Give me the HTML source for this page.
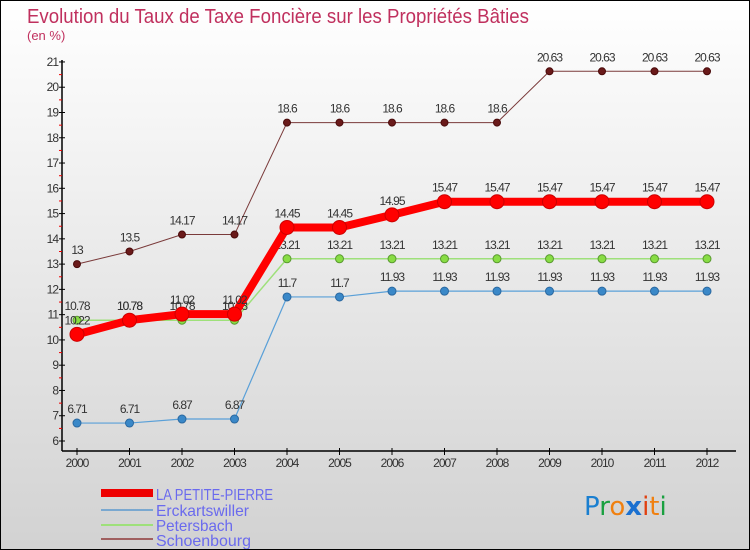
<!DOCTYPE html>
<html><head><meta charset="utf-8"><style>
body{margin:0}
#c{width:750px;height:550px;position:relative;box-sizing:border-box;border:1px solid #000;background:linear-gradient(#fff,#d2d2d2);overflow:hidden;font-family:"Liberation Sans",sans-serif}
</style></head><body>
<div id="c">
<svg id="s" width="750" height="550" style="position:absolute;left:0;top:0">
<text x="26" y="22" font-size="20" fill="#c0305e" textLength="502" lengthAdjust="spacingAndGlyphs">Evolution du Taux de Taxe Foncière sur les Propriétés Bâties</text>
<text x="26" y="39" font-size="13" fill="#c0305e">(en %)</text>
<g id="axes"></g><g id="series"></g>
<g>
<rect x="100" y="488" width="52" height="8" fill="#e00"/>
<text x="155" y="499" font-size="16" fill="#6a6aee" textLength="117" lengthAdjust="spacingAndGlyphs">LA PETITE-PIERRE</text>
<rect x="100" y="508" width="52" height="2" fill="#7aa8d0"/>
<text x="155" y="515" font-size="16" fill="#6a6aee" textLength="93" lengthAdjust="spacingAndGlyphs">Erckartswiller</text>
<rect x="100" y="523" width="52" height="2" fill="#9ee07a"/>
<text x="155" y="530" font-size="16" fill="#6a6aee" textLength="77" lengthAdjust="spacingAndGlyphs">Petersbach</text>
<rect x="100" y="537" width="52" height="2" fill="#a06060"/>
<text x="155" y="545" font-size="16" fill="#6a6aee" textLength="95" lengthAdjust="spacingAndGlyphs">Schoenbourg</text>
</g>
<g font-size="26" font-family="'DejaVu Sans',sans-serif">
<text x="583" y="514"><tspan fill="#1a7fd0">P</tspan><tspan fill="#1aa040">r</tspan><tspan fill="#f08010">o</tspan><tspan fill="#1a70d0" font-weight="bold">x</tspan><tspan fill="#e04010">i</tspan><tspan fill="#f08010">t</tspan><tspan fill="#1aa040">i</tspan></text>
</g>
</svg>
</div>
<script>
const years=[2000,2001,2002,2003,2004,2005,2006,2007,2008,2009,2010,2011,2012];
const schoenbourg=[13,13.5,14.17,14.17,18.6,18.6,18.6,18.6,18.6,20.63,20.63,20.63,20.63];
const petersbach=[10.78,10.78,10.78,10.78,13.21,13.21,13.21,13.21,13.21,13.21,13.21,13.21,13.21];
const erckartswiller=[6.71,6.71,6.87,6.87,11.7,11.7,11.93,11.93,11.93,11.93,11.93,11.93,11.93];
const petitePierre=[10.22,10.78,11.02,11.02,14.45,14.45,14.95,15.47,15.47,15.47,15.47,15.47,15.47];
const yTicks=[6,7,8,9,10,11,12,13,14,15,16,17,18,19,20,21];
const NS="http://www.w3.org/2000/svg";
const xs=i=>76+i*52.5, ys=v=>440-(v-6)*25.27;
function mk(p,t,a){const e=document.createElementNS(NS,t);for(const k in a)e.setAttribute(k,a[k]);p.appendChild(e);return e;}
const ax=document.getElementById('axes');
let l=mk(ax,'line',{x1:61,y1:59,x2:61,y2:450,stroke:'#000','stroke-width':1.5});


l=mk(ax,'line',{x1:61,y1:450,x2:735,y2:450,stroke:'#000','stroke-width':1.5});


yTicks.forEach(v=>{const y=ys(v);mk(ax,'line',{x1:58,y1:y,x2:64,y2:y,stroke:'#000'});
 if(v<21)mk(ax,'line',{x1:58,y1:y-12.6,x2:61,y2:y-12.6,stroke:'#e00'});
 const t=mk(ax,'text',{x:57,y:y+4,'text-anchor':'end','font-size':12,fill:'#333','letter-spacing':'-1'});t.textContent=v;
 
 });
years.forEach((yr,i)=>{const x=xs(i);mk(ax,'line',{x1:x,y1:447,x2:x,y2:454,stroke:'#000'});
 const t=mk(ax,'text',{x:x,y:466,'text-anchor':'middle','font-size':12,fill:'#333','letter-spacing':'-1'});t.textContent=yr;
 
 });
const sg=document.getElementById('series');
function series(name,vals,color,w,r,mfill,mstroke){
 const g=mk(sg,'g',{});
 
 
 mk(g,'polyline',{points:vals.map((v,i)=>xs(i)+','+ys(v)).join(' '),fill:'none',stroke:color,'stroke-width':w});
 vals.forEach((v,i)=>{const c=mk(g,'circle',{cx:xs(i),cy:ys(v),r:r,fill:mfill,stroke:mstroke,'stroke-width':1});
  
  
  const t=mk(g,'text',{x:xs(i),y:ys(v)-10,'text-anchor':'middle','font-size':12,fill:'#333','letter-spacing':'-1'});t.textContent=v;
  
  });
}
series('schoenbourg',schoenbourg,'#7a3a3a',1,3.5,'#6a1a1a','#4a0a0a');
series('erckartswiller',erckartswiller,'#5aa0d8',1.2,4,'#3a88c8','#2a68a0');
series('petersbach',petersbach,'#9ee07a',1.5,4,'#88dd44','#5a9a30');
series('la-petite-pierre',petitePierre,'#f00',8,7,'#f00','#c00');
</script>
</body></html>
